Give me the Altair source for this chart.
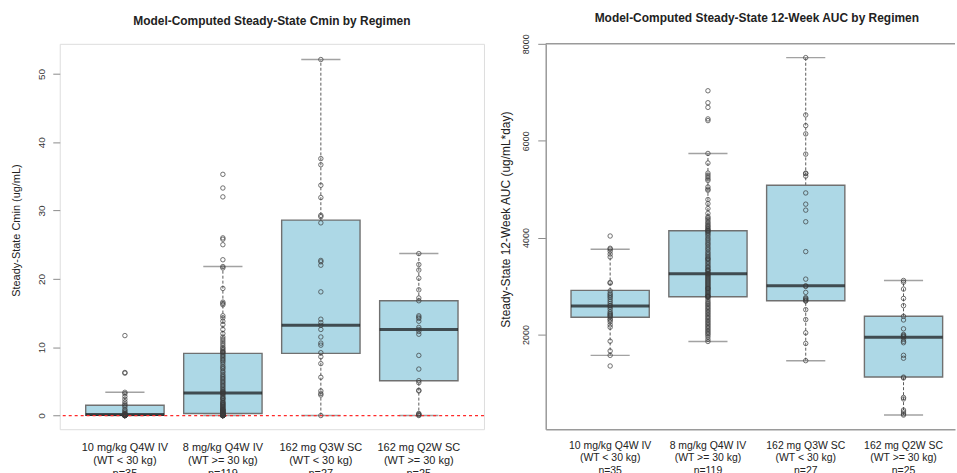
import altair as alt
import pandas as pd

# ---------------- data ----------------
regimens = ["10 mg/kg Q4W IV", "8 mg/kg Q4W IV", "162 mg Q3W SC", "162 mg Q2W SC"]
weight_groups = ["(WT < 30 kg)", "(WT >= 30 kg)", "(WT < 30 kg)", "(WT >= 30 kg)"]
n_subjects = [35, 119, 27, 25]

# Cmin box statistics (ug/mL)
cmin_low = [0.0, 0.0, 0.0, 0.0]
cmin_q1 = [0.05, 0.3, 9.1, 5.1]
cmin_med = [0.15, 3.3, 13.2, 12.6]
cmin_q3 = [1.5, 9.1, 28.6, 16.8]
cmin_high = [3.4, 21.8, 52.1, 23.7]

# 12-week AUC box statistics (ug/mL*day)
auc_low = [1569, 1856, 1460, 337]
auc_q1 = [2355, 2780, 2698, 1123]
auc_med = [2589, 3253, 3006, 1945]
auc_q3 = [2910, 4142, 5080, 2376]
auc_high = [3760, 5737, 7715, 3115]

# individual Cmin values
cmin_pts_1 = [11.7, 6.3, 6.2, 3.4, 3.2, 2.8, 2.4, 2.0, 1.7, 1.5, 1.25, 0.9, 0.7, 0.5,
              0.35, 0.25, 0.2, 0.15, 0.12, 0.1, 0.08, 0.06, 0.05, 0.04, 0.03, 0.02,
              0.01, 0, 0, 0, 0, 0, 0, 0, 0]
cmin_pts_2 = [35.3, 33.3, 32.0, 26.0, 25.8, 25.0, 22.8, 21.8, 21.6, 18.6, 16.6, 16.4,
              16.2, 14.6, 14.3, 13.8, 13.3, 12.6, 12.0, 11.5, 11.2, 10.9, 10.6, 10.3,
              10.0, 9.8, 9.6, 9.4, 9.3, 9.2,
              9.0, 8.8, 8.6, 8.4, 8.2, 8.0, 7.8, 7.5, 7.2, 7.0, 6.8, 6.5, 6.3, 6.0,
              5.8, 5.6, 5.4, 5.2, 5.0, 4.8, 4.6, 4.4, 4.2, 4.0, 3.8, 3.6, 3.5, 3.4,
              3.3, 3.26, 3.2, 3.0, 2.8, 2.6, 2.5, 2.4, 2.2, 2.0, 1.9, 1.8, 1.7, 1.6,
              1.5, 1.4, 1.3, 1.2, 1.1, 1.0, 0.9, 0.85, 0.8, 0.75, 0.7, 0.6, 0.55,
              0.5, 0.45, 0.4, 0.35, 0.3,
              0.28, 0.25, 0.22, 0.2, 0.18, 0.16, 0.14, 0.12, 0.1, 0.09, 0.08, 0.07,
              0.06, 0.05, 0.04, 0.03, 0.02, 0.01, 0, 0, 0, 0, 0, 0, 0, 0, 0, 0, 0]
cmin_pts_3 = [52.1, 37.6, 36.7, 33.7, 31.9, 29.3, 29.1, 28.2, 22.7, 22.5, 22.0, 18.1,
              14.1, 13.6, 13.2, 12.6, 11.5, 10.6, 10.3, 9.2, 8.6, 7.6, 5.6, 3.6, 3.2,
              3.0, 0.0]
cmin_pts_4 = [23.7, 22.1, 21.3, 20.1, 18.4, 17.2, 16.8, 14.6, 14.4, 14.2, 13.8, 12.9,
              12.6, 12.3, 11.9, 8.8, 6.8, 5.1, 4.8, 3.7, 3.6, 0.3, 0.2, 0.1, 0.0]

# individual AUC values
auc_pts_1 = [4033, 3780, 3760, 3720, 3660, 3600, 3074, 3060, 2900, 2850, 2820, 2790,
             2760, 2720, 2680, 2640, 2600, 2589, 2560, 2520, 2470, 2440, 2420, 2400,
             2380, 2360, 2320, 2300, 2260, 2200, 2150, 1862, 1660, 1569, 1350]
auc_pts_2 = [7031, 6784, 6688, 6450, 6415, 5737, 5539, 5330, 5290, 5250, 5210, 5180,
             5045, 5000, 4977, 4786, 4700, 4600, 4500, 4430, 4400, 4370, 4330, 4300,
             4270, 4240, 4220, 4190, 4170, 4150,
             4140, 4120, 4100, 4070, 4040, 4000, 3970, 3940, 3900, 3870, 3840, 3800,
             3770, 3740, 3700, 3670, 3640, 3610, 3580, 3560, 3550, 3520, 3490, 3460,
             3430, 3400, 3380, 3350, 3330, 3320, 3290, 3260, 3253, 3240, 3220, 3200,
             3180, 3160, 3140, 3120, 3100, 3080, 3060, 3040, 3020, 3000, 2980, 2960,
             2950, 2940, 2920, 2900, 2880, 2860, 2840, 2820, 2800, 2790, 2785, 2780,
             2760, 2720, 2680, 2650, 2620, 2590, 2560, 2530, 2500, 2470, 2440, 2410,
             2380, 2350, 2320, 2290, 2260, 2230, 2200, 2170, 2140, 2110, 2080, 2050,
             2020, 1990, 1950, 1900, 1856]
auc_pts_3 = [7715, 6532, 6312, 6141, 5723, 5330, 5320, 5270, 4922, 4690, 4567, 4327,
             3711, 3143, 3006, 2992, 2869, 2760, 2740, 2720, 2700, 2690, 2513, 2308,
             2034, 1815, 1460]
auc_pts_4 = [3115, 3080, 2938, 2745, 2595, 2376, 2300, 2117, 2000, 1980, 1960, 1945,
             1900, 1860, 1830, 1570, 1510, 1120, 1103, 700, 670, 440, 400, 360, 337]

reference_line = [0.0]  # dashed red reference at 0 ug/mL

# ---------------- tables ----------------
labels = [f"{r}\n{w}\nn={n}" for r, w, n in zip(regimens, weight_groups, n_subjects)]


def box_table(low, q1, med, q3, high):
    return pd.DataFrame({"group": labels, "low": low, "q1": q1, "med": med,
                         "q3": q3, "high": high})


def point_table(groups):
    rows = []
    for lab, vals in zip(labels, groups):
        rows += [{"group": lab, "value": v} for v in vals]
    return pd.DataFrame(rows)


cmin_box = box_table(cmin_low, cmin_q1, cmin_med, cmin_q3, cmin_high)
auc_box = box_table(auc_low, auc_q1, auc_med, auc_q3, auc_high)
cmin_points = point_table([cmin_pts_1, cmin_pts_2, cmin_pts_3, cmin_pts_4])
auc_points = point_table([auc_pts_1, auc_pts_2, auc_pts_3, auc_pts_4])

FONT = "Liberation Sans"
LEFT_W, RIGHT_W, PLOT_H = 426, 411, 387
FRAME = "#9a9a9a"


def panel(box_df, pts_df, title, title_dx, title_offset, ytitle, ydomain, yvalues,
          xscale, step, yaxis_extra, xaxis_extra, label_fs, title_fs, ylabel_fs):
    x = alt.X("group:N", sort=labels, scale=xscale,
              axis=alt.Axis(title=None, labelExpr="split(datum.label, '\\n')",
                            ticks=False, labelAngle=0, labelFontSize=label_fs,
                            labelColor="#222", labelFont=FONT, labelBaseline="top",
                            **xaxis_extra))
    yscale = alt.Scale(domain=ydomain, nice=False, zero=False)
    yaxis = alt.Axis(title=ytitle, values=yvalues, format="d", grid=False,
                     labelAngle=270, labelAlign="center",
                     labelBaseline="middle", labelFontSize=ylabel_fs,
                     labelColor="#333", labelFont=FONT,
                     tickColor="#8a8a8a", tickWidth=1,
                     titleFontSize=title_fs, titleFontWeight="normal",
                     titleColor="#222", titleFont=FONT,
                     titleAngle=270, titleAlign="center",
                     titleBaseline="middle", **yaxis_extra)

    def yq(field):
        return alt.Y(field, scale=yscale, axis=yaxis, title=ytitle)

    whisk_hi = alt.Chart(box_df).mark_rule(color="#5a5a5a", strokeDash=[3, 2],
                                           strokeWidth=1).encode(
        x=x, y=yq("q3:Q"), y2="high:Q")
    whisk_lo = alt.Chart(box_df).mark_rule(color="#5a5a5a", strokeDash=[3, 2],
                                           strokeWidth=1).encode(
        x=x, y=yq("low:Q"), y2="q1:Q")
    cap_hi = alt.Chart(box_df).mark_tick(color="#7a7a7a", size=0.4 * step,
                                         thickness=1.5).encode(x=x, y=yq("high:Q"))
    cap_lo = alt.Chart(box_df).mark_tick(color="#7a7a7a", size=0.4 * step,
                                         thickness=1.5).encode(x=x, y=yq("low:Q"))
    box = alt.Chart(box_df).mark_bar(width=alt.RelativeBandSize(0.8), fill="#ADD8E6",
                                     stroke="#707070", strokeWidth=1.4).encode(
        x=x, y=yq("q1:Q"), y2="q3:Q")
    med = alt.Chart(box_df).mark_tick(color="#111111", size=0.8 * step,
                                      thickness=3).encode(x=x, y=yq("med:Q"))
    pts = alt.Chart(pts_df).mark_point(shape="circle", filled=False, size=20,
                                       color="#3a3a3a", strokeWidth=0.9,
                                       opacity=0.8).encode(x=x, y=yq("value:Q"))
    layers = [whisk_hi, whisk_lo, cap_hi, cap_lo, box, med, pts]
    return layers, yq, alt.TitleParams(text=title, fontSize=12, fontWeight="bold",
                                       font=FONT, color="#222", anchor="middle",
                                       frame="group", offset=title_offset,
                                       dx=title_dx)


# ---- left panel ----
left_po = 0.165
left_step = LEFT_W / (4 + 2 * left_po)
l_layers, l_yq, l_title = panel(
    cmin_box, cmin_points, "Model-Computed Steady-State Cmin by Regimen", 0, 16,
    "Steady-State Cmin (ug/mL)", [-2.0, 54.4], [0, 10, 20, 30, 40, 50],
    alt.Scale(type="band", paddingInner=0, paddingOuter=left_po), left_step,
    dict(tickSize=7, labelPadding=11, domain=False, titleX=-43, titleY=187),
    dict(domain=False, labelPadding=12, labelLineHeight=13), 11, 11, 10)
ref = alt.Chart(pd.DataFrame({"ref": reference_line})).mark_rule(
    color="#ff2a2a", strokeDash=[3, 3], strokeWidth=1.3).encode(y=l_yq("ref:Q"))
left = alt.layer(*l_layers[:6], ref, l_layers[6]).properties(
    width=LEFT_W, height=PLOT_H, title=l_title)

# ---- right panel ----
right_step = 98.2
right_po = (RIGHT_W / right_step - 4) / 2
right_align = (64.7 - right_step / 2) / (RIGHT_W - 4 * right_step)
r_layers, r_yq, r_title = panel(
    auc_box, auc_points, "Model-Computed Steady-State 12-Week AUC by Regimen", 6.5, 8.5,
    "Steady-State 12-Week AUC (ug/mL*day)", [45, 8000], [2000, 4000, 6000, 8000],
    alt.Scale(type="band", paddingInner=0, paddingOuter=right_po, align=right_align),
    right_step,
    dict(tickSize=8, labelPadding=12, domain=True, domainColor=FRAME, domainWidth=1.5,
         titleX=-40.5, titleY=176),
    dict(domain=True, domainColor=FRAME, domainWidth=1.5, labelPadding=11,
         labelLineHeight=12.5), 10.5, 12, 9)
top_edge = alt.Chart(pd.DataFrame({"edge": [0]})).mark_rule(
    color=FRAME, strokeWidth=1.5).encode(
    x=alt.value(0), x2=alt.value(RIGHT_W), y=alt.value(0))
right = alt.layer(*r_layers, top_edge).properties(
    width=RIGHT_W, height=PLOT_H, title=r_title,
    view=alt.ViewBackground(stroke="transparent"))

chart = alt.hconcat(left, right, spacing=62, bounds="flush").properties(
    padding={"left": 10, "top": 10, "right": 0, "bottom": 0},
    background="white",
).configure_view(stroke=FRAME, strokeWidth=1.5).configure(font=FONT)

chart.save("out.html", embed_options={"renderer": "svg", "actions": False})
